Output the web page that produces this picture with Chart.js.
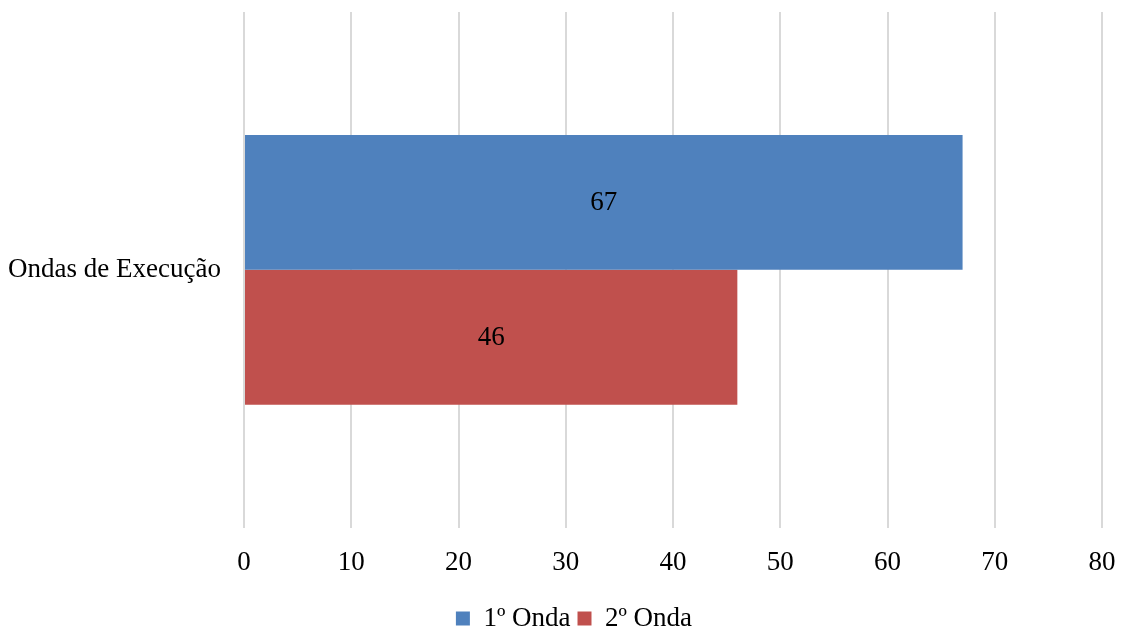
<!DOCTYPE html>
<html>
<head>
<meta charset="utf-8">
<script src="https://cdn.jsdelivr.net/npm/chart.js@4"></script>
<style>
    body { margin: 0; background: #fff; }
    #wrap { width: 1121px; height: 628px; }
</style>
</head>
<body>
<div id="wrap"><canvas id="barChart" width="1121" height="628"></canvas></div>
<script>
// chart data
const categories = ['Ondas de Execução'];
const seriesNames = ['1º Onda', '2º Onda'];
const onda1 = [67];
const onda2 = [46];
const xTicks = [0, 10, 20, 30, 40, 50, 60, 70, 80];

const serif = "'Liberation Serif', 'Times New Roman', serif";
const fontSize = 27;

// value labels centered in each bar
const centerLabels = {
    id: 'centerLabels',
    afterDatasetsDraw(chart) {
        const ctx = chart.ctx;
        ctx.save();
        ctx.font = fontSize + 'px ' + serif;
        ctx.fillStyle = '#000';
        ctx.textAlign = 'center';
        ctx.textBaseline = 'middle';
        chart.data.datasets.forEach((ds, i) => {
            chart.getDatasetMeta(i).data.forEach((bar, j) => {
                const x = (bar.x + bar.base) / 2;
                ctx.fillText(ds.data[j], x, bar.y + 1);
            });
        });
        ctx.restore();
    }
};

// legend in the reference sits a bit right of the page centre
const nudgeLegend = {
    id: 'nudgeLegend',
    afterLayout(chart) {
        chart.legend.left += 23;
        chart.legend.right += 23;
    }
};

const barChartConfig = {
    type: 'bar',
    data: {
        labels: categories,
        datasets: [{
            label: seriesNames[0],
            data: onda1,
            backgroundColor: '#4F81BD',
            barPercentage: 1,
            categoryPercentage: 0.523
        }, {
            label: seriesNames[1],
            data: onda2,
            backgroundColor: '#C0504D',
            barPercentage: 1,
            categoryPercentage: 0.523
        }]
    },
    options: {
        indexAxis: 'y',
        responsive: false,
        animation: false,
        layout: { padding: { top: 12, right: 19, left: 0, bottom: -14 } },
        scales: {
            x: {
                min: xTicks[0],
                max: xTicks[xTicks.length - 1],
                afterBuildTicks: scale => { scale.ticks = xTicks.map(v => ({ value: v })); },
                afterFit: scale => {
                    scale.paddingLeft = 0;
                    scale.paddingRight = 0;
                },
                grid: { color: '#d9d9d9', lineWidth: 2, drawTicks: false },
                border: { display: false },
                ticks: { color: '#000', padding: 19, font: { family: serif, size: fontSize } }
            },
            y: {
                afterFit: scale => {
                    scale.width = 244;
                    scale.paddingTop = 0;
                    scale.paddingBottom = 0;
                },
                grid: { display: false, drawTicks: false },
                border: { display: false },
                ticks: { color: '#000', padding: 23, font: { family: serif, size: fontSize } }
            }
        },
        plugins: {
            legend: {
                position: 'bottom',
                labels: {
                    boxWidth: 14,
                    boxHeight: 14,
                    padding: 7,
                    color: '#000',
                    font: { family: serif, size: fontSize }
                }
            },
            tooltip: { enabled: false }
        }
    },
    plugins: [centerLabels, nudgeLegend]
};

new Chart(document.getElementById('barChart'), barChartConfig);
</script>
</body>
</html>
